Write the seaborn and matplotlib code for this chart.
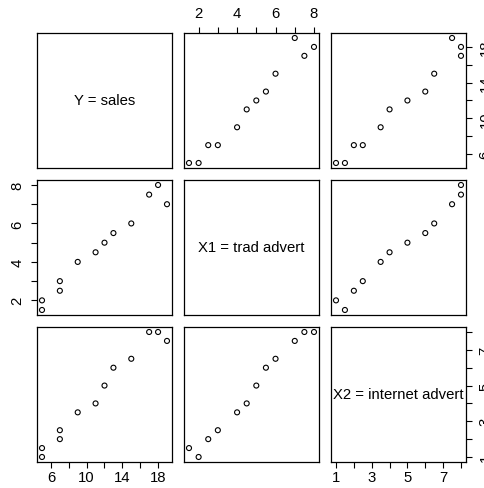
import matplotlib
matplotlib.use("Agg")
import matplotlib.pyplot as plt
import numpy as np
import pandas as pd
import seaborn as sns

# Advertising data: sales against traditional and internet advertising spend
sales = [5, 5, 7, 7, 9, 11, 12, 13, 15, 17, 18, 19]
trad_advert = [2, 1.5, 3, 2.5, 4, 4.5, 5, 5.5, 6, 7.5, 8, 7]
internet_advert = [1, 1.5, 2.5, 2, 3.5, 4, 5, 6, 6.5, 8, 8, 7.5]

var_names = ["sales", "trad", "internet"]
diag_labels = ["Y = sales", "X1 = trad advert", "X2 = internet advert"]

# Labelled (major) and unlabelled (minor) tick positions for each variable
major_ticks = {"sales": [6, 10, 14, 18], "trad": [2, 4, 6, 8], "internet": [1, 3, 5, 7]}
minor_ticks = {"sales": [8, 12, 16], "trad": [3, 5, 7], "internet": [2, 4, 6, 8]}

df = pd.DataFrame({"sales": sales, "trad": trad_advert, "internet": internet_advert})

sns.set_theme(style="white")
plt.rcParams["font.family"] = ["Liberation Sans", "DejaVu Sans"]

g = sns.PairGrid(df, vars=var_names, height=1.6, despine=False)
g.map_offdiag(sns.scatterplot, marker="o", s=13, color="black",
              facecolor="none", edgecolor="black", linewidth=0.8)

fig = g.figure
fig.set_size_inches(4.85, 4.89)
fig.subplots_adjust(left=0.0763, right=0.9608, bottom=0.0532, top=0.9305,
                    wspace=0.089, hspace=0.089)

# Axis ranges with 4% padding either side of the data range
for k, v in enumerate(var_names):
    lo, hi = df[v].min(), df[v].max()
    pad = 0.04 * (hi - lo)
    g.axes[0, k].set_xlim(lo - pad, hi + pad)
    g.axes[k, 0].set_ylim(lo - pad, hi + pad)
    g.axes[0, k].set_xticks(major_ticks[v])
    g.axes[0, k].set_xticks(minor_ticks[v], minor=True)
    g.axes[k, 0].set_yticks(major_ticks[v])
    g.axes[k, 0].set_yticks(minor_ticks[v], minor=True)

fs = 10.7
for i in range(3):
    for j in range(3):
        ax = g.axes[i, j]
        ax.set_xlabel("")
        ax.set_ylabel("")
        ax.grid(False)
        for sp in ax.spines.values():
            sp.set_visible(True)
            sp.set_color("black")
            sp.set_linewidth(0.9)
        ax.tick_params(which="both", direction="out", length=4, width=0.8,
                       color="black", labelsize=fs, labelcolor="black",
                       bottom=False, top=False, left=False, right=False,
                       labelbottom=False, labeltop=False,
                       labelleft=False, labelright=False)

# Diagonal panels carry the variable names
for i in range(3):
    g.axes[i, i].text(0.5, 0.5, diag_labels[i], transform=g.axes[i, i].transAxes,
                      ha="center", va="center", fontsize=fs, color="black")

# Alternating outer axes
g.axes[2, 0].tick_params(axis="x", which="both", bottom=True, labelbottom=True, pad=1.5)
g.axes[2, 2].tick_params(axis="x", which="both", bottom=True, labelbottom=True, pad=1.5)
g.axes[0, 1].tick_params(axis="x", which="both", top=True, labeltop=True, pad=5)
g.axes[1, 0].tick_params(axis="y", which="both", left=True, labelleft=True, pad=5,
                         labelrotation=90)
g.axes[0, 2].tick_params(axis="y", which="both", right=True, labelright=True, pad=5,
                         labelrotation=90)
g.axes[2, 2].tick_params(axis="y", which="both", right=True, labelright=True, pad=5,
                         labelrotation=90)
for ax in (g.axes[1, 0], g.axes[0, 2], g.axes[2, 2]):
    plt.setp(ax.get_yticklabels(), va="center")

fig.savefig("out.png", dpi=100, facecolor="white")
